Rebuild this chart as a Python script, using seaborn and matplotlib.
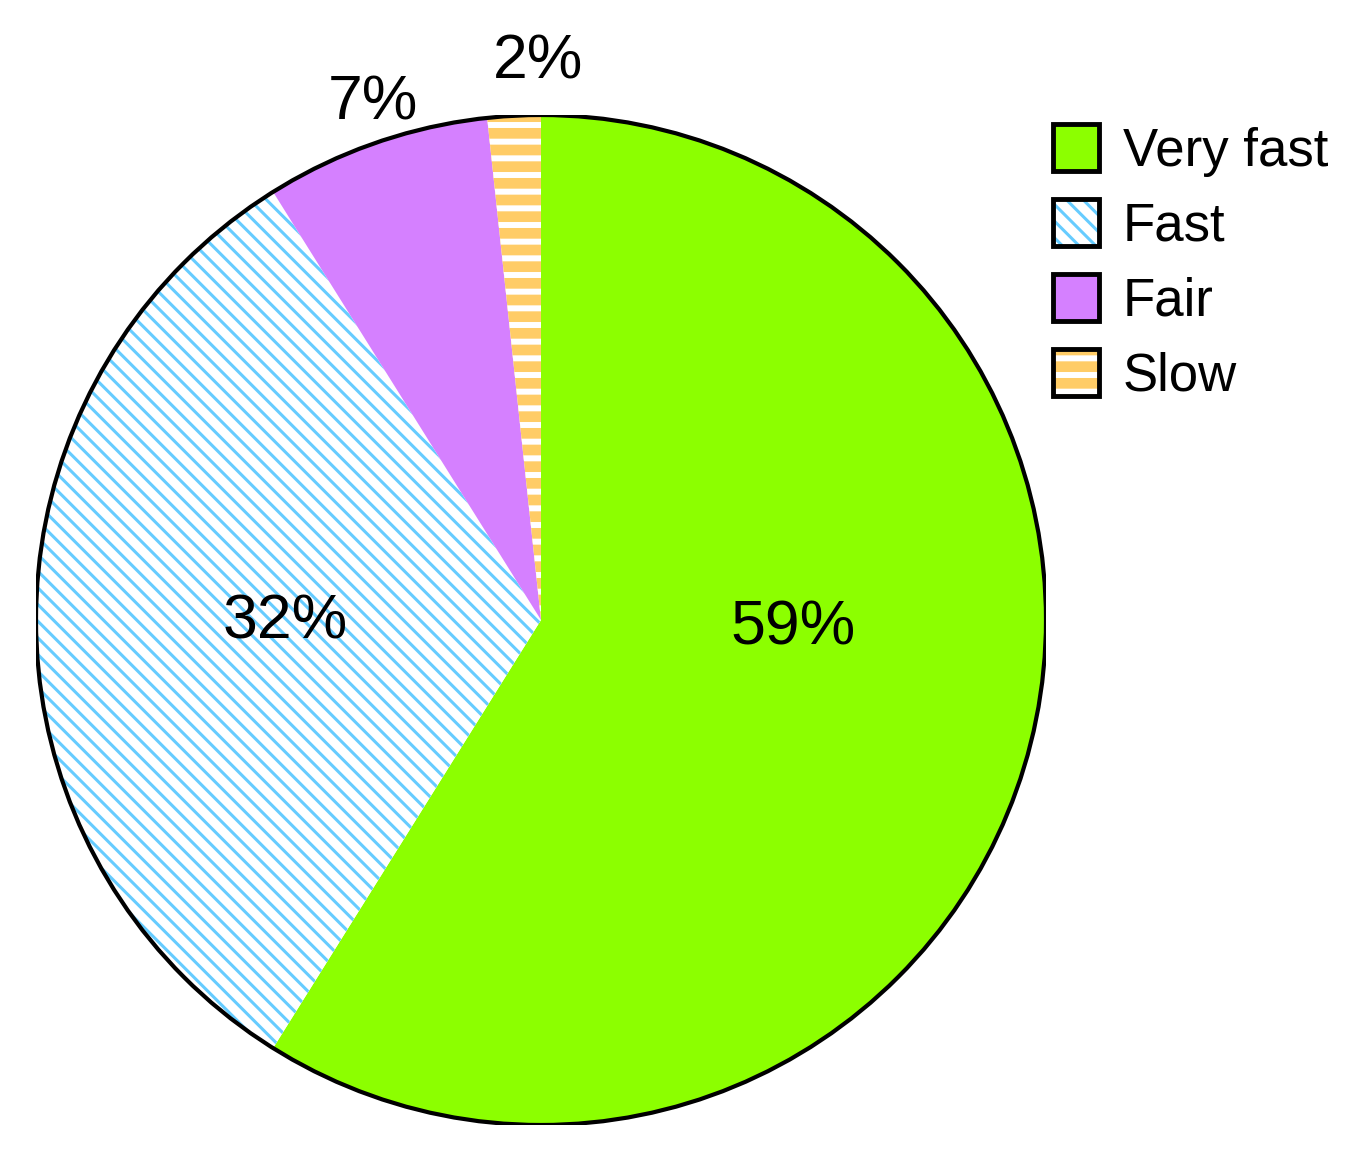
import matplotlib
matplotlib.use('Agg')
import matplotlib.pyplot as plt
from matplotlib.patches import Circle, Patch
import seaborn as sns

# speed rating shares (percent)
categories = ['Very fast', 'Fast', 'Fair', 'Slow']
shares = [58.9, 32.2, 7.2, 1.7]
pct_labels = ['59%', '32%', '7%', '2%']

sns.set_style('white')
plt.rcParams['font.family'] = ['Liberation Sans', 'DejaVu Sans']
plt.rcParams['text.color'] = 'black'
plt.rcParams['hatch.linewidth'] = 2.2

colors = sns.color_palette(['#8cff00', '#66ccff', '#d580ff', '#ffcc66'])
faces = [colors[0], 'white', colors[2], colors[3]]
hatch_colors = [colors[0], colors[1], colors[2], 'white']
hatches = [None, '\\\\', None, '-']
hatch_lw = [2.2, 2.2, 2.2, 4.3]


def set_hatch_lw(p, lw):
    # no public setter here, so poke the patch's own value
    if hasattr(p, 'set_hatch_linewidth'):
        p.set_hatch_linewidth(lw)
    if hasattr(p, '_hatch_linewidth'):
        p._hatch_linewidth = lw


fig = plt.figure(figsize=(13.61, 11.63), dpi=100)
ax = fig.add_axes([36 / 1361, 38 / 1163, 1010 / 1361, 1010 / 1163])

wedges, _ = ax.pie(shares, startangle=90, counterclock=False, radius=1,
                   colors=faces, wedgeprops=dict(linewidth=0))
for w, hc, h, lw in zip(wedges, hatch_colors, hatches, hatch_lw):
    w.set_edgecolor(hc)
    w.set_linewidth(0)
    if h:
        w.set_hatch(h)
        set_hatch_lw(w, lw)

ax.add_patch(Circle((0, 0), 1, fill=False, edgecolor='black', linewidth=3))
ax.set_xlim(-1, 1)
ax.set_ylim(-1, 1)
ax.set_aspect('equal')
ax.axis('off')

# label placement (axes data units)
label_xy = [(0.499, -0.016), (-0.507, -0.004), (-0.333, 1.024), (-0.006, 1.105)]
for txt, (x, y) in zip(pct_labels, label_xy):
    ax.text(x, y, txt, ha='center', va='center', fontsize=45, color='black')

# legend: hatched swatch overlaid with a black frame
handles = []
for fc, hc, h in zip(faces, hatch_colors, hatches):
    fill = Patch(facecolor=fc, edgecolor=hc, linewidth=0, hatch=h)
    frame = Patch(facecolor='none', edgecolor='black', linewidth=3.5)
    handles.append((fill, frame))

leg = fig.legend(handles, categories, loc='upper left',
                 bbox_to_anchor=(1053 / 1361, 1 - 124 / 1163),
                 frameon=False, fontsize=38, borderpad=0, borderaxespad=0,
                 handlelength=0.87, handleheight=1.0, handletextpad=0.45,
                 labelspacing=0.42, labelcolor='black')

# legend swatches get the same stripe widths as the wedges
for art in leg.findobj(Patch):
    if art.get_hatch() == '-':
        set_hatch_lw(art, 4.3)
    elif art.get_hatch():
        set_hatch_lw(art, 2.2)

fig.savefig('out.png', dpi=100)
